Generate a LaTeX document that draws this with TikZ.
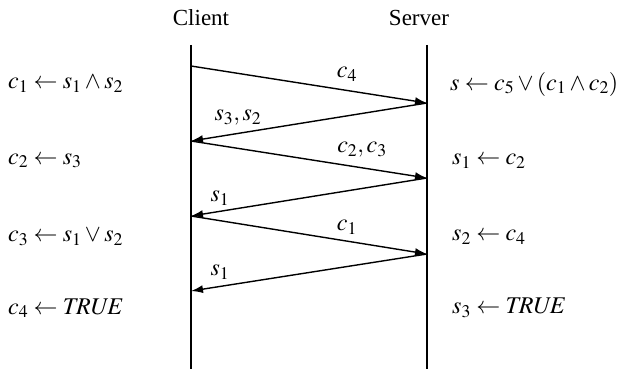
\documentclass[tikz,border=0pt]{standalone}
\usepackage{mathptmx}
\usepackage{fontspec}
\setmainfont{Liberation Serif}
\usetikzlibrary{arrows.meta}
\begin{document}
\begin{tikzpicture}[x=1pt,y=-1pt,
  txt/.style={inner sep=0pt,font=\fontsize{23}{27}\selectfont},
  eq/.style={txt,anchor=west,font=\fontsize{24}{28}\selectfont},
  msg/.style={line width=1.4pt,-{Latex[length=12pt,width=8pt]}},
  life/.style={line width=1.1pt}]
\useasboundingbox (0,0) rectangle (621,369);
% headers
\node[txt] (client) at (201,18) {Client};
\node[txt] (server) at (419,18) {Server};
% lifelines
\coordinate (ctop) at (191,45);
\coordinate (cbot) at (191,369);
\coordinate (stop) at (427,45);
\coordinate (sbot) at (427,369);
\draw[life] (ctop) -- (cbot);
\draw[life] (stop) -- (sbot);
% message points
\coordinate (a0) at (191,66);
\coordinate (b1) at (427,103);
\coordinate (a1) at (191,141);
\coordinate (b2) at (427,178);
\coordinate (a2) at (191,216);
\coordinate (b3) at (427,254);
\coordinate (a3) at (191,291);
\draw[msg] (a0) -- (b1);
\draw[msg] (b1) -- (a1);
\draw[msg] (a1) -- (b2);
\draw[msg] (b2) -- (a2);
\draw[msg] (a2) -- (b3);
\draw[msg] (b3) -- (a3);
% labels
\node[eq,anchor=center] (l1) at (347,74) {$c_4$};
\node[eq,anchor=center] (l2) at (238,118) {$s_3, s_2$};
\node[eq,anchor=center] (l3) at (362,150) {$c_2, c_3$};
\node[eq,anchor=center] (l4) at (220,198) {$s_1$};
\node[eq,anchor=center] (l5) at (347,227) {$c_1$};
\node[eq,anchor=center] (l6) at (220,272) {$s_1$};
% left equations
\node[eq] (e1) at (8,84) {$c_1 \leftarrow s_1 \wedge s_2$};
\node[eq] (e2) at (8,161) {$c_2 \leftarrow s_3$};
\node[eq] (e3) at (8,237) {$c_3 \leftarrow s_1 \vee s_2$};
\node[eq] (e4) at (8,308) {$c_4 \leftarrow \mathit{TRUE}$};
% right equations
\node[eq] (f1) at (450,84) {$s \leftarrow c_5 \vee (c_1 \wedge c_2)$};
\node[eq] (f2) at (452,161) {$s_1 \leftarrow c_2$};
\node[eq] (f3) at (452,237) {$s_2 \leftarrow c_4$};
\node[eq] (f4) at (452,308) {$s_3 \leftarrow \mathit{TRUE}$};
\end{tikzpicture}
\end{document}
